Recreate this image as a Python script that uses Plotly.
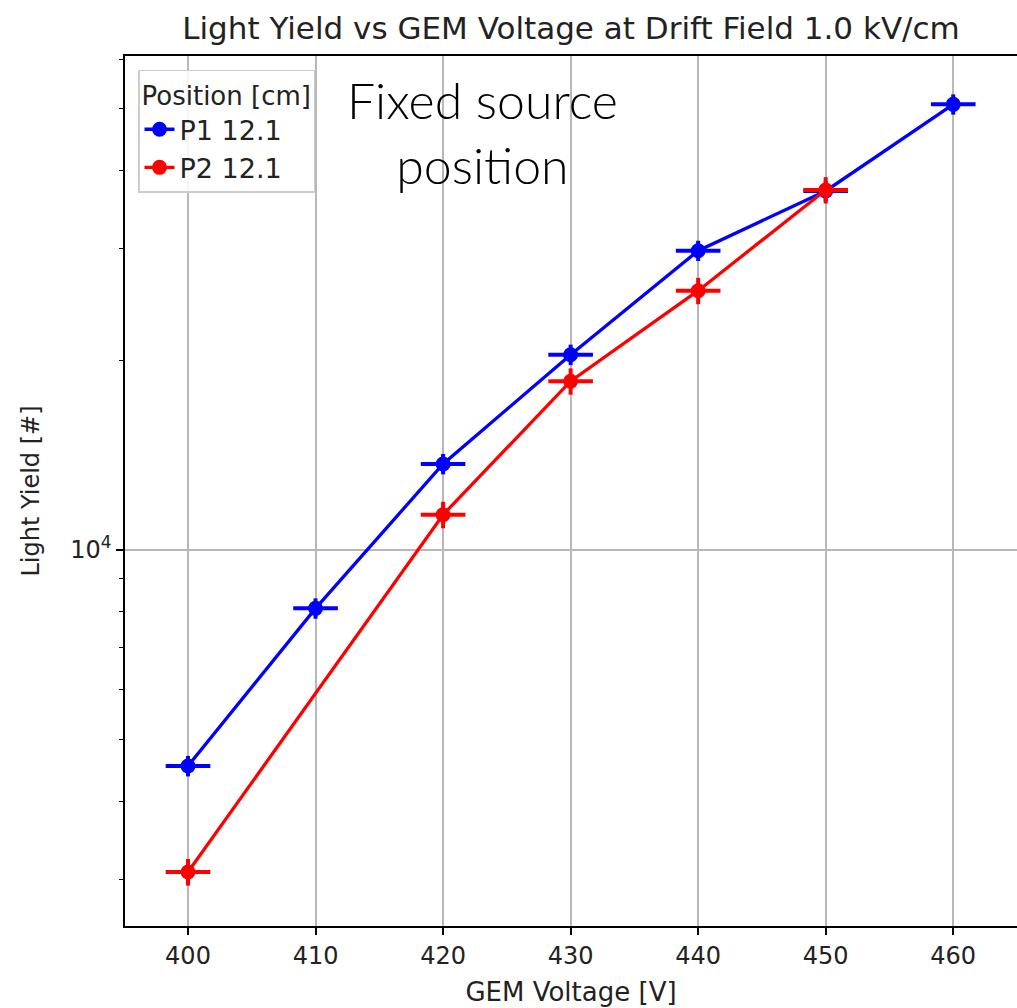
import plotly.graph_objects as go

# GEM voltage [V]
p1_voltage = [400, 410, 420, 430, 440, 450, 460]
p1_yield = [4547, 8082, 13688, 20395, 29810, 37070, 50850]
p1_yerr = [170, 300, 510, 760, 1100, 1370, 1880]

p2_voltage = [400, 420, 430, 440, 450]
p2_yield = [3088, 11374, 18513, 25760, 37200]
p2_yerr = [150, 550, 890, 1240, 1790]

voltage_err = 1.75

x_ticks = [400, 410, 420, 430, 440, 450, 460]
y_major = [10000]
y_minor = [3000, 4000, 5000, 6000, 7000, 8000, 9000,
           20000, 30000, 40000, 50000, 60000]

FONT = "DejaVu Sans"

fig = go.Figure()


def add_series(x, y, yerr, color, name):
    fig.add_trace(go.Scatter(
        x=x, y=y, name=name, mode="lines+markers",
        line=dict(color=color, width=3.3),
        marker=dict(color=color, size=15, symbol="circle"),
        error_x=dict(type="constant", value=voltage_err, color=color,
                     thickness=4, width=0),
        error_y=dict(type="data", array=yerr, color=color,
                     thickness=4, width=0),
    ))


add_series(p1_voltage, p1_yield, p1_yerr, "#0000ff", "P1 12.1")
add_series(p2_voltage, p2_yield, p2_yerr, "#ff0000", "P2 12.1")

fig.add_annotation(
    text="Fixed source<br>position", xref="paper", yref="paper",
    x=0.401, y=0.9115, xanchor="center", yanchor="middle",
    showarrow=False,
    font=dict(family="Lato", size=50, color="black", weight=300),
)

fig.update_layout(
    width=1017, height=1008,
    margin=dict(l=125, r=0, t=56, b=82),
    paper_bgcolor="white", plot_bgcolor="white",
    font=dict(family=FONT, color="#222222"),
    title=dict(text="Light Yield vs GEM Voltage at Drift Field 1.0 kV/cm",
               x=0.5, xref="paper", xanchor="center",
               y=1 - 28 / 1008, yref="container", yanchor="middle",
               font=dict(family=FONT, size=31, color="#222222")),
    legend=dict(
        title=dict(text="Position [cm]", font=dict(size=26, family=FONT)),
        font=dict(size=27, family=FONT, color="#222222"),
        x=0.0146, y=0.984, xanchor="left", yanchor="top",
        bgcolor="rgba(255,255,255,0.85)", bordercolor="#cccccc",
        borderwidth=1.5, tracegroupgap=0,
    ),
    showlegend=True,
)

fig.update_xaxes(
    range=[395.06, 465.0],
    tickmode="array", tickvals=x_ticks,
    ticktext=[str(v) for v in x_ticks],
    ticks="outside", ticklen=7, tickwidth=1.5, tickcolor="black",
    tickfont=dict(size=24, family=FONT, color="#222222"),
    showgrid=True, gridcolor="#b8b8b8", gridwidth=1.5,
    showline=True, linecolor="black", linewidth=1.5, mirror=True,
    zeroline=False,
    title=dict(text="GEM Voltage [V]", standoff=14,
               font=dict(size=26, family=FONT, color="#222222")),
)

fig.update_yaxes(
    type="log", range=[3.4041, 4.7829],
    tickmode="array", tickvals=y_major, ticktext=["10<sup>4</sup>"],
    ticks="outside", ticklen=7, tickwidth=1.5, tickcolor="black",
    tickfont=dict(size=24, family=FONT, color="#222222"),
    showgrid=True, gridcolor="#b8b8b8", gridwidth=1.5,
    minor=dict(tickmode="array", tickvals=y_minor, ticks="outside",
               ticklen=4, tickwidth=1.2, tickcolor="black", showgrid=False),
    showline=True, linecolor="black", linewidth=1.5, mirror=False,
    zeroline=False,
    title=dict(text="Light Yield [#]", standoff=24,
               font=dict(size=24, family=FONT, color="#222222")),
)

fig.write_html("out.html")
